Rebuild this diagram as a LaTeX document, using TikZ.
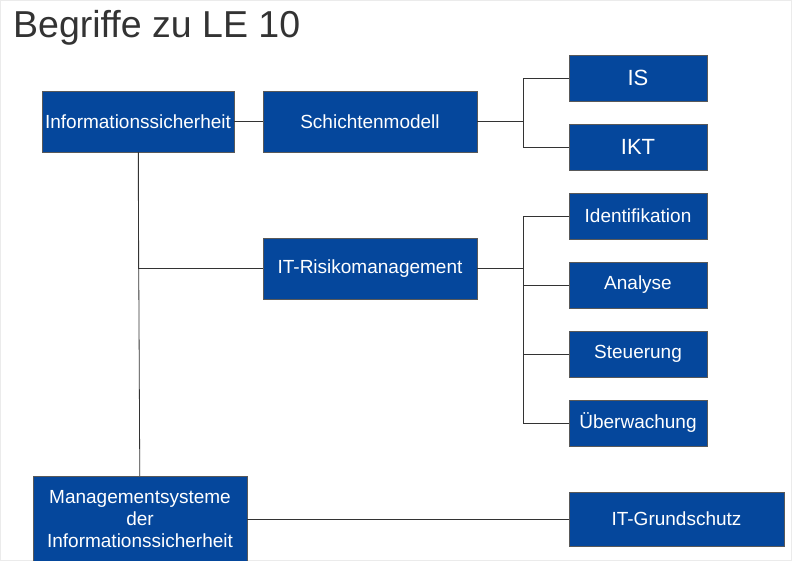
\documentclass[tikz,border=0pt]{standalone}
\usepackage{fontspec}
\setmainfont{Liberation Sans}
\usetikzlibrary{positioning}
\definecolor{boxblue}{HTML}{05479C}
\definecolor{titlegray}{HTML}{333333}

\begin{document}
\begin{tikzpicture}[x=1pt, y=-1pt,
  term/.style={draw=black!65, fill=boxblue, text=white, inner sep=0pt,
    align=center, font=\fontsize{19}{22}\selectfont},
  wide/.style={term, minimum width=214pt, minimum height=61pt},
  leaf/.style={term, minimum width=138pt, minimum height=46pt},
  link/.style={draw=black!80, line width=0.8pt}]
\useasboundingbox (0,0) rectangle (792,561);
\draw[black!8] (0.5,0.5) rectangle (791.5,560.5);
\node[anchor=base west, inner sep=0pt, text=titlegray, font=\fontsize{37.5}{40}\selectfont] (title) at (13,38) {Begriffe zu LE 10};
% Hauptbegriffe
\node[term, minimum width=192pt, minimum height=61pt] (info) at (138,121.5) {Informationssicherheit};
\node[wide] (schicht) at (370,121.5) {Schichtenmodell};
\node[wide] (risk) at (370,268.5) {IT-Risikomanagement};
\node[term, minimum width=214pt, minimum height=86pt] (mgmt) at (140,519) {Managementsysteme\\der\\Informationssicherheit};
% Unterbegriffe
\node[leaf, font=\fontsize{22}{24}\selectfont] (is) at (638,78) {IS};
\node[leaf, font=\fontsize{22}{24}\selectfont] (ikt) at (638,147) {IKT};
\node[leaf] (ident) at (638,216) {Identifikation};
\node[leaf] (anal) at (638,285) {Analyse};
\node[leaf] (steuer) at (638,354) {Steuerung};
\node[leaf] (ueber) at (638,423) {Überwachung};
\node[term, minimum width=215pt, minimum height=54pt] (grund) at (676.5,519) {IT-Grundschutz};
% Verzweigungen
\coordinate (b1) at (523,121.5);
\coordinate (b2) at (523,268.5);
\draw[link] (info) -- (schicht);
\draw[link] (schicht) -- (b1);
\draw[link] (b1) |- (is);
\draw[link] (b1) |- (ikt);
\draw[link] (info) |- (risk);
\draw[link] (info) -- (mgmt);
\draw[link] (risk) -- (b2);
\foreach \n in {ident, anal, steuer, ueber}
  \draw[link] (b2) |- (\n);
\draw[link] (mgmt) -- (grund);
\end{tikzpicture}
\end{document}
